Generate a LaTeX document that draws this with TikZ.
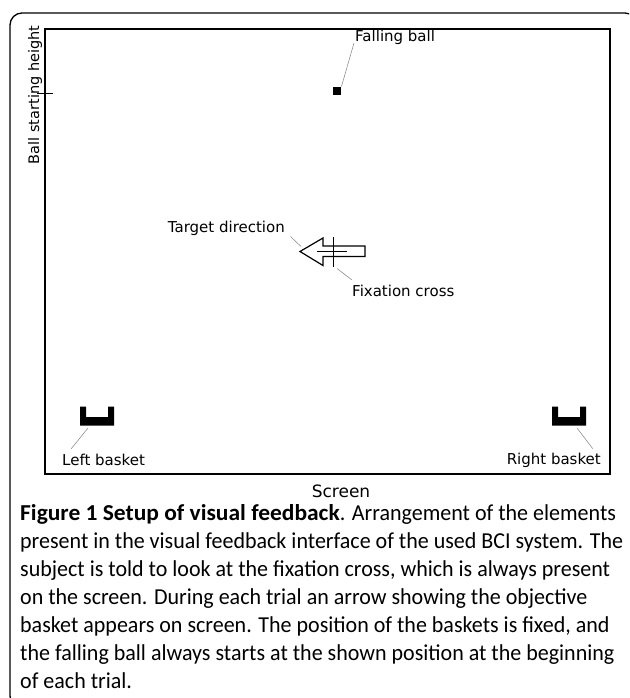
\documentclass[tikz,border=0pt]{standalone}
\usepackage{fontspec}
\setmainfont{DejaVu Sans}
\newfontfamily\capfont[FakeStretch=0.965,BoldFeatures={FakeStretch=1.03}]{Carlito}
\usetikzlibrary{positioning}
\colorlet{leadgray}{black!50}
\newcommand{\lblsize}{\fontsize{15}{18}\selectfont}
\tikzset{basket/.pic={
  \fill (-17,-9.5) -- (-11,-9.5) -- (-11,1) -- (11,1) -- (11,-9.5)
    -- (17,-9.5) -- (17,9.5) -- (-17,9.5) -- cycle;
  \coordinate (-bl) at (-9,12);
  \coordinate (-br) at (8,12);
}}
\tikzset{lbl/.style={inner sep=0pt,font=\lblsize},
  leader/.style={leadgray,line width=0.5pt}}

\begin{document}
\begin{tikzpicture}[x=1pt,y=-1pt]
  \useasboundingbox (0,0) rectangle (629,698);
  \begin{scope}
    \clip (0,0) rectangle (629,698);
    \draw[line width=1.3pt,rounded corners=12pt] (10,13) rectangle (637,708);
  \end{scope}
  % screen
  \draw[line width=1.2pt] (45,29) rectangle (610,474);
  \node[lbl,font=\fontsize{17}{20}\selectfont] (screen) at (341,491) {Screen};
  % starting height
  \draw[line width=1pt] (37,94) -- (53,94);
  \node[lbl,rotate=90,font=\fontsize{14.5}{17}\selectfont] (height) at (35,95) {Ball starting height};
  % ball
  \node[fill,minimum size=8.5pt,inner sep=0pt] (ball) at (337,91) {};
  \node[lbl,anchor=west] (balltext) at (355,37) {Falling ball};
  \draw[leader] (ball.north east) -- ([xshift=-1pt,yshift=-6pt]balltext.west);
  % arrow and fixation cross
  \draw[line width=1.2pt,fill=white] (300,251.5) -- (323,238) -- (323,246)
    -- (365,246) -- (365,256.5) -- (323,256.5) -- (323,265.5) -- cycle;
  \coordinate (tip) at (300,251.5);
  \coordinate (fix) at (333,251.5);
  \draw[line width=1pt] (333,237) -- (333,267) (317,251.5) -- (347,251.5);
  \node[lbl,anchor=east] (targettext) at (285,228) {Target direction};
  \node[lbl,anchor=west] (fixtext) at (352,291) {Fixation cross};
  \draw[leader] ([xshift=5.5pt,yshift=-8.5pt]targettext.east) -- ([xshift=1pt,yshift=5pt]tip);
  \draw[leader] ([xshift=4pt,yshift=-17pt]fix) -- ([yshift=11pt]fixtext.west);
  % baskets
  \pic (lb) at (97,416) {basket};
  \pic (rb) at (569,416) {basket};
  \node[lbl,anchor=west] (lbtext) at (62,460) {Left basket};
  \node[lbl,anchor=east] (rbtext) at (601,460) {Right basket};
  \draw[leader] (lb-bl) -- ([xshift=9pt,yshift=11pt]lbtext.west);
  \draw[leader] (rb-br) -- ([xshift=-8pt,yshift=11pt]rbtext.east);
  % caption
  \node[anchor=north west,inner sep=0pt,align=left,
    font=\capfont\fontsize{22.8}{28}\selectfont] (caption) at (20,504)
    {\textbf{Figure 1 Setup of visual feedback}. Arrangement of the elements\\
     present in the visual feedback interface of the used BCI system. The\\
     subject is told to look at the fixation cross, which is always present\\
     on the screen. During each trial an arrow showing the objective\\
     basket appears on screen. The position of the baskets is fixed, and\\
     the falling ball always starts at the shown position at the beginning\\
     of each trial.};
\end{tikzpicture}
\end{document}
